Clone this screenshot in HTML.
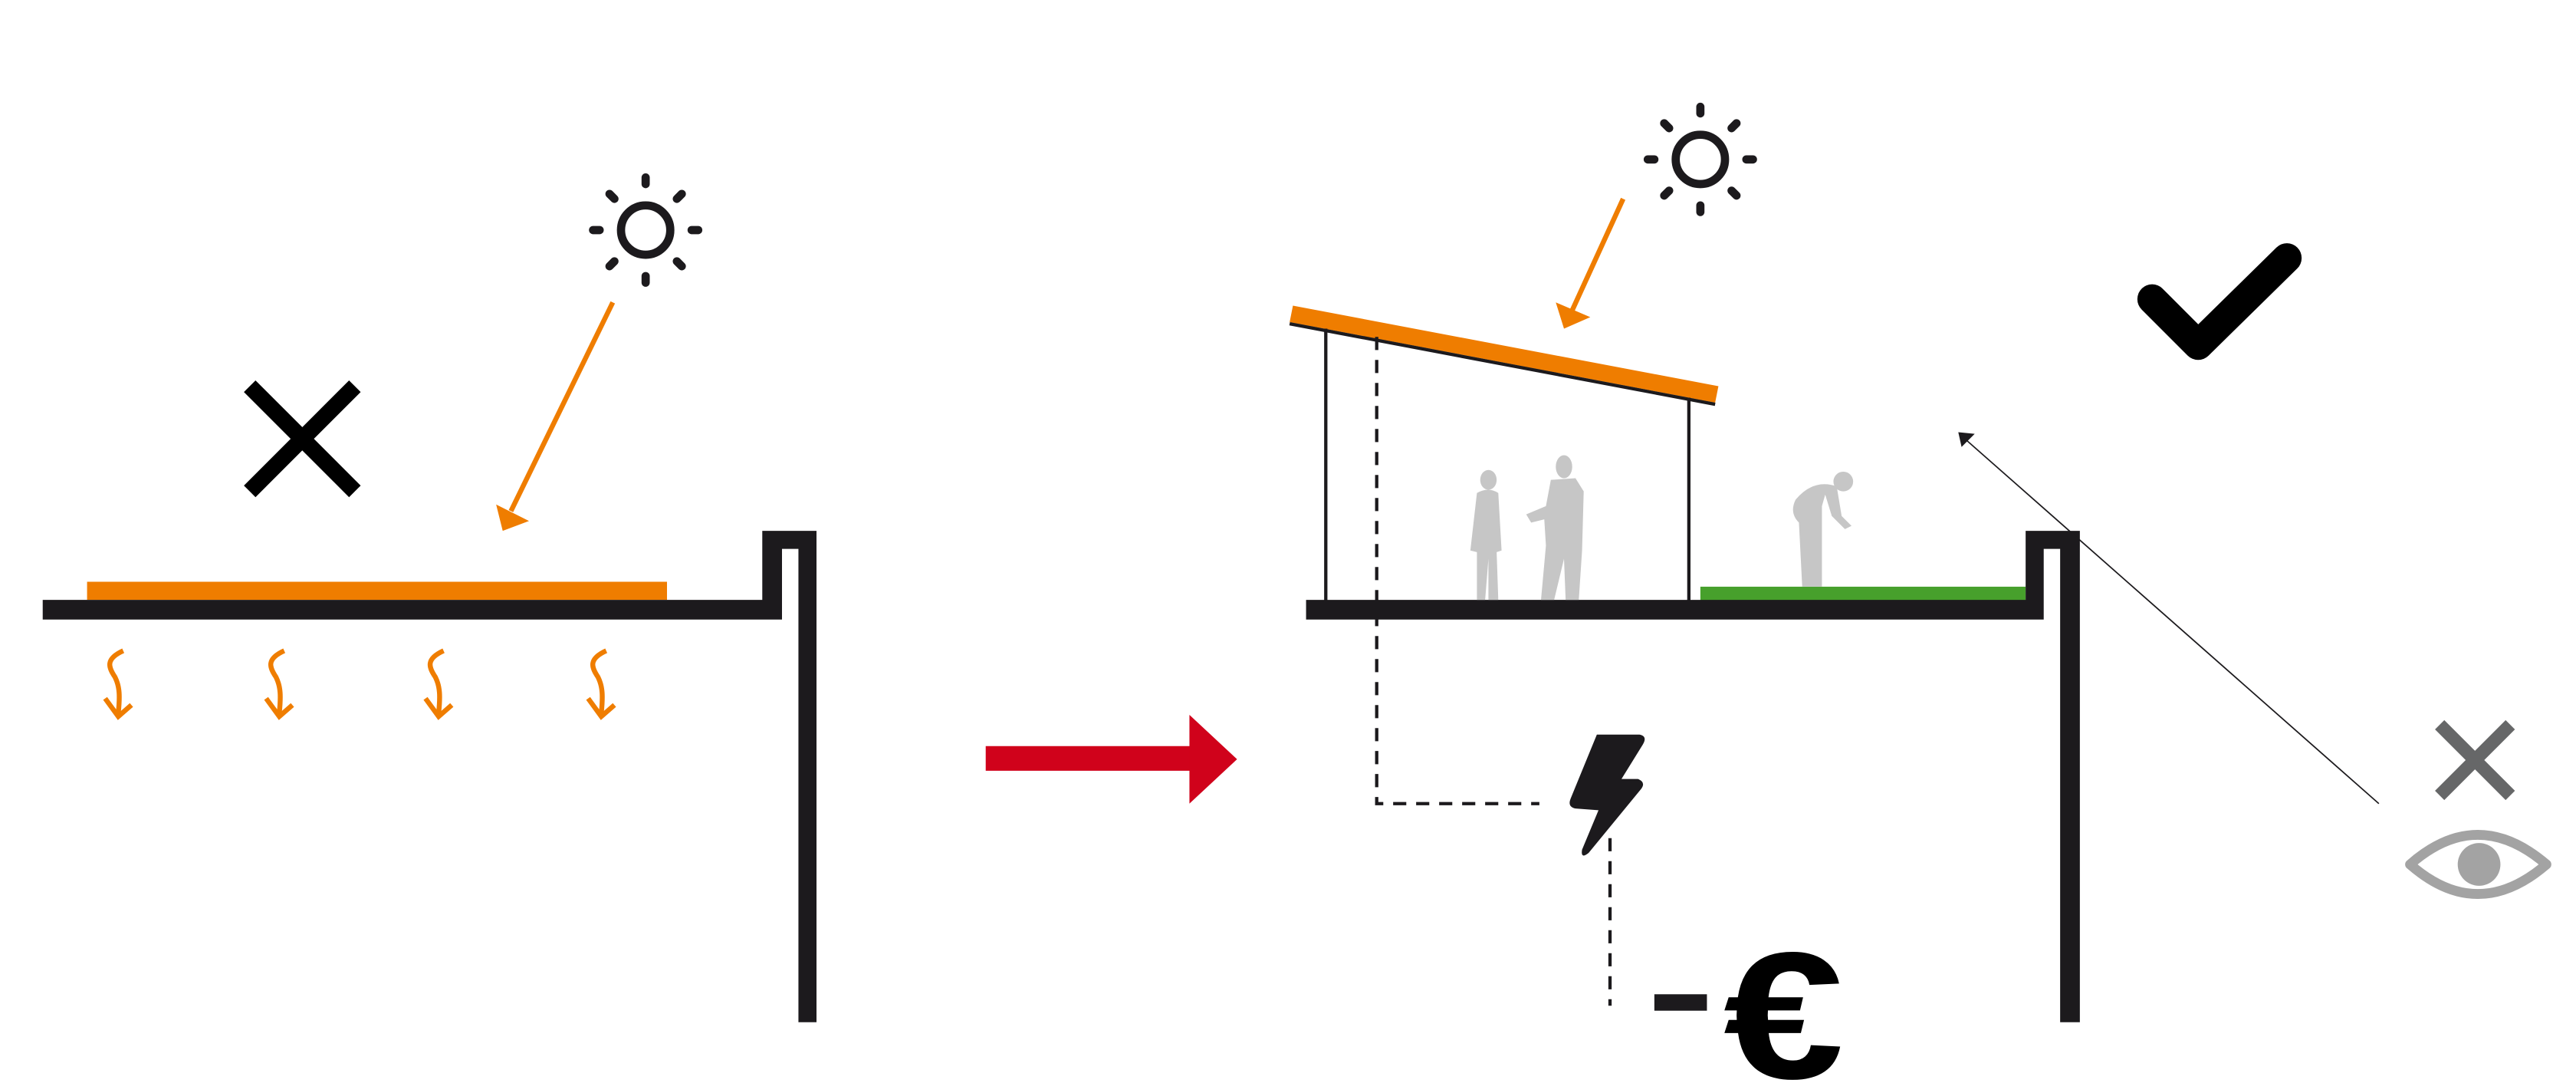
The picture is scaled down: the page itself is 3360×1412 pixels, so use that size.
<!DOCTYPE html>
<html><head><meta charset="utf-8"><style>html,body{margin:0;padding:0;background:#fff;}svg{display:block}</style></head>
<body>
<svg width="3360" height="1412" viewBox="0 0 1568 659" preserveAspectRatio="none" xmlns="http://www.w3.org/2000/svg">
<rect width="1568" height="659" fill="#fff"/>
<defs>
<g id="sun" fill="none" stroke="#1c1a1d" stroke-linecap="round">
<circle r="15" stroke-width="5"/>
<g stroke-width="5">
<line x1="0" y1="-28" x2="0" y2="-32"/><line x1="0" y1="28" x2="0" y2="32"/>
<line x1="-28" y1="0" x2="-32" y2="0"/><line x1="28" y1="0" x2="32" y2="0"/>
<line x1="19" y1="-19" x2="22" y2="-22"/><line x1="-19" y1="-19" x2="-22" y2="-22"/>
<line x1="19" y1="19" x2="22" y2="22"/><line x1="-19" y1="19" x2="-22" y2="22"/>
</g></g>
<g id="wave" fill="none" stroke="#ef7d00" stroke-width="3">
<path d="M7,0 C-4,5 -2,10 2,16 C5,22 5,28 4,38"/>
<path d="M-4,29 L4,40 L12,33"/>
</g>
</defs>

<!-- LEFT PANEL -->
<rect x="53" y="354" width="353" height="11" fill="#ef7d00"/>
<path d="M26,365 L464,365 L464,323 L497,323 L497,622 L486,622 L486,334 L476,334 L476,377 L26,377 Z" fill="#1c1a1d"/>
<g stroke="#000" stroke-width="10"><line x1="152" y1="235" x2="216" y2="299"/><line x1="216" y1="235" x2="152" y2="299"/></g>
<use href="#sun" x="393" y="140"/>
<line x1="373" y1="184" x2="311" y2="311" stroke="#ef7d00" stroke-width="3"/>
<polygon points="302,307 306,323 322,317" fill="#ef7d00"/>
<use href="#wave" x="68" y="396"/>
<use href="#wave" x="166" y="396"/>
<use href="#wave" x="263" y="396"/>
<use href="#wave" x="362" y="396"/>

<!-- RED ARROW -->
<rect x="600" y="454" width="126" height="15" fill="#d0021b"/>
<polygon points="724,435 753,462 724,489" fill="#d0021b"/>

<!-- RIGHT PANEL -->
<polygon points="787,186 1046,235 1044,245 785,196" fill="#ef7d00"/>
<line x1="785" y1="197" x2="1044" y2="246" stroke="#1c1a1d" stroke-width="2"/>
<line x1="807" y1="200" x2="807" y2="366" stroke="#1c1a1d" stroke-width="2"/>
<line x1="1028" y1="242" x2="1028" y2="366" stroke="#1c1a1d" stroke-width="2"/>
<rect x="1035" y="357" width="198" height="11" fill="#47a02c"/>
<path d="M795,365 L1233,365 L1233,323 L1266,323 L1266,622 L1254,622 L1254,334 L1244,334 L1244,377 L795,377 Z" fill="#1c1a1d"/>
<path d="M838,205 L838,489 L937,489" fill="none" stroke="#1c1a1d" stroke-width="2" stroke-dasharray="8,6"/>
<line x1="980" y1="510" x2="980" y2="612" stroke="#1c1a1d" stroke-width="2" stroke-dasharray="8,6"/>
<use href="#sun" x="1035" y="97"/>
<line x1="988" y1="121" x2="956" y2="191" stroke="#ef7d00" stroke-width="3"/>
<polygon points="947,184 952,200 968,193" fill="#ef7d00"/>

<!-- people -->
<g fill="#c6c6c6">
<ellipse cx="906" cy="292" rx="5" ry="6"/>
<path d="M899,300 Q906,296 912,300 L914,335 L911,336 L912,365 L906,365 L906,340 L904,365 L899,365 L899,336 L895,335 Z"/>
<ellipse cx="952" cy="284" rx="5" ry="7"/>
<path d="M944,292 L959,291 L964,299 L963,335 L961,365 L953,365 L952,340 L946,365 L938,365 L941,332 L940,316 L932,318 L929,313 L941,308 Z"/>
<ellipse cx="1122" cy="293" rx="6" ry="6"/>
<path d="M1093,304 Q1104,291 1118,296 L1121,314 L1127,320 L1123,322 L1115,314 L1111,301 L1109,308 L1109,357 L1097,357 L1095,318 Q1089,312 1093,304 Z"/>
</g>

<!-- lightning -->
<path d="M972,447 L998,447 Q1003,448 1000,453 L987,474 L997,474 Q1002,476 999,480 L967,519 Q962,523 963,517 L973,493 L959,492 Q954,491 956,486 Z" fill="#1c1a1d"/>
<!-- minus euro -->
<rect x="1007" y="605" width="32" height="10" fill="#1c1a1d"/>
<text x="0" y="0" transform="translate(1049,656) scale(1.2,1)" font-family="Liberation Sans, sans-serif" font-weight="bold" font-size="110" fill="#000">€</text>

<!-- check -->
<polyline points="1310,182 1338,210 1392,157" fill="none" stroke="#000" stroke-width="18" stroke-linecap="round" stroke-linejoin="round"/>
<!-- sight line -->
<line x1="1448" y1="489" x2="1196" y2="267" stroke="#1c1a1d" stroke-width="0.8"/>
<polygon points="1192,263 1202,264 1194,272" fill="#1c1a1d"/>
<!-- gray X -->
<g stroke="#666768" stroke-width="8"><line x1="1485" y1="441" x2="1528" y2="484"/><line x1="1528" y1="441" x2="1485" y2="484"/></g>
<!-- eye -->
<path d="M1467,526 Q1508,490 1550,526 Q1508,562 1467,526 Z" fill="none" stroke="#a3a3a3" stroke-width="6" stroke-linejoin="round"/>
<circle cx="1509" cy="526" r="13" fill="#a3a3a3"/>
</svg>
</body></html>
